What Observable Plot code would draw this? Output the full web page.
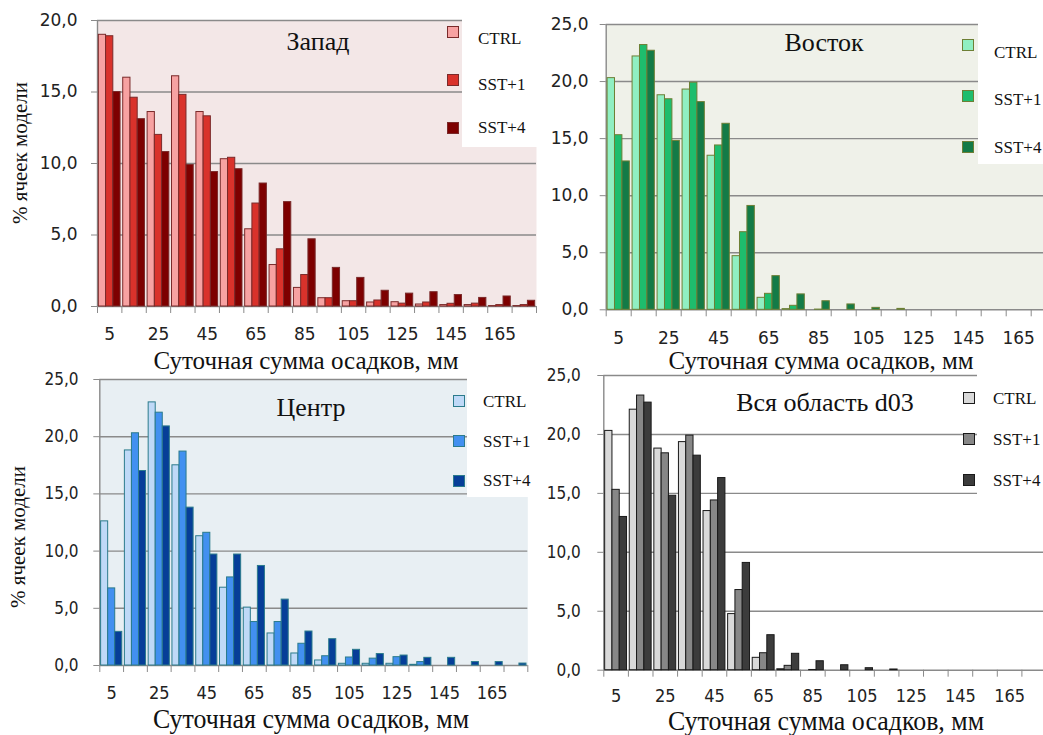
<!DOCTYPE html>
<html><head><meta charset="utf-8">
<script src="https://cdn.jsdelivr.net/npm/d3@7"></script>
<script src="https://cdn.jsdelivr.net/npm/@observablehq/plot@0.6"></script>
<style>
html,body{margin:0;padding:0;background:#fff;overflow:hidden}
#stage{position:relative;width:1043px;height:735px;overflow:hidden;background:#fff}
.panel{position:absolute}
.txt{position:absolute;font-family:"Liberation Serif","Times New Roman",serif;color:#111;white-space:nowrap;line-height:1}
.box{position:absolute;background:#fff}
.sq{position:absolute;box-sizing:border-box;border:1px solid}
</style></head><body><div id="stage"></div><script>
// ---------- data ----------
const categories = [5,15,25,35,45,55,65,75,85,95,105,115,125,135,145,155,165,175];
const xTickLabels = ["5","25","45","65","85","105","125","145","165"];
const seriesNames = ["CTRL","SST+1","SST+4"];
const yTicks20 = [0,5,10,15,20];
const yTicks25 = [0,5,10,15,20,25];

const westCTRL = [19.0,16.0,13.6,16.1,13.6,10.3,5.4,2.9,1.3,0.58,0.37,0.28,0.3,0.14,0.1,0.1,0.03,0.03];
const westSST1 = [18.9,14.6,12.0,14.8,13.3,10.4,7.2,4.0,2.2,0.58,0.37,0.42,0.2,0.28,0.19,0.2,0.1,0.1];
const westSST4 = [15.0,13.1,10.8,9.9,9.4,9.6,8.6,7.3,4.7,2.7,2.0,1.1,0.9,1.0,0.8,0.6,0.7,0.4];

const eastCTRL = [20.3,22.2,18.8,19.3,13.5,4.7,1.05,0.06,0,0,0,0,0,0,0,0,0,0];
const eastSST1 = [15.3,23.2,18.45,19.9,14.4,6.8,1.4,0.35,0.02,0,0,0,0,0,0,0,0,0];
const eastSST4 = [13.0,22.7,14.8,18.2,16.3,9.1,2.95,1.35,0.75,0.47,0.17,0.08,0,0,0,0,0,0];

const centerCTRL = [12.6,18.8,23.0,17.5,11.3,6.8,5.06,2.8,1.05,0.44,0.15,0.15,0.15,0.06,0,0,0,0];
const centerSST1 = [6.74,20.3,22.1,18.7,11.6,7.7,3.8,3.8,1.9,0.81,0.7,0.6,0.73,0.3,0,0,0,0];
const centerSST4 = [2.94,17.0,20.9,13.8,9.7,9.7,8.7,5.76,2.97,2.3,1.37,1.0,0.87,0.67,0.67,0.3,0.3,0.17];

const allCTRL = [20.3,22.1,18.8,19.35,13.5,4.76,1.05,0.08,0,0,0,0,0,0,0,0,0,0];
const allSST1 = [15.3,23.3,18.4,19.9,14.4,6.8,1.44,0.37,0.02,0,0,0,0,0,0,0,0,0];
const allSST4 = [13.0,22.7,14.8,18.2,16.3,9.1,2.97,1.39,0.76,0.42,0.17,0.06,0,0,0,0,0,0];

const panelTitles = ["Запад","Восток","Центр","Вся область d03"];
const xTitle = "Суточная сумма осадков, мм";
const yTitle = "% ячеек модели";

// ---------- layout / style ----------
const panels = [
  {values:[westCTRL,westSST1,westSST4], yTicks:yTicks20, left:0, top:0, ml:97, mr:9, mt:20, mb:64, yPad:14, xPad:21,
   bg:"#f3e7e7", fills:["#f7a2a2","#d9322b","#7d0000"], stroke:"#7a2a2a",
   title:[318,42], xt:[306,360], yt:[20,153], box:[462,10,80,137], sqX:447, sqY:[32,80,128], txX:478, txY:[38,84,127], cond:false},
  {values:[eastCTRL,eastSST1,eastSST4], yTicks:yTicks25, left:545, top:0, ml:60.7, mr:34.3, mt:24, mb:60.7, yPad:11.7, xPad:22,
   bg:"#eff1e9", fills:["#90efc2","#1ebd6d","#137b47"], stroke:"#6d7f35",
   title:[824,43], xt:[821,360], yt:null, box:[978,0,70,164], sqX:962, sqY:[45,96,147], txX:994, txY:[52,99,147], cond:false},
  {values:[centerCTRL,centerSST1,centerSST4], yTicks:yTicks25, left:0, top:365, ml:99.3, mr:17.7, mt:14, mb:70, yPad:15.3, xPad:21,
   bg:"#e8eff3", fills:["#bfd9f7","#4290f0","#063e98"], stroke:"#2b7b8c",
   title:[311,408], xt:[311,719], yt:[18,537], box:[467,370,80,127], sqX:453, sqY:[401,441,481], txX:483, txY:[401,441,480], cond:true},
  {values:[allCTRL,allSST1,allSST4], yTicks:yTicks25, left:545, top:365, ml:58.3, mr:44, mt:10, mb:65.3, yPad:17, xPad:19.5,
   bg:"#ffffff", fills:["#d9d9d9","#878787","#3c3c3c"], stroke:"#1a1a1a",
   title:[825,403], xt:[826,721], yt:null, box:[977,370,70,126], sqX:963, sqY:[398,439,480], txX:993, txY:[398,439,480], cond:true}
];

const stage = document.getElementById("stage");
const W = 545, H = 370;
const fmt = d => d.toFixed(1).replace(".", ",");
const step = categories[1] - categories[0];
const binEdges = categories.map(c => c - step/2).concat([categories[categories.length-1] + step/2]);
const gap = 1.1, bw = (step - gap) / 3;

function addText(str, x, y, size, extra) {
  const d = document.createElement("div");
  d.className = "txt";
  d.textContent = str;
  d.style.left = x + "px"; d.style.top = y + "px";
  d.style.fontSize = size + "px";
  d.style.transform = "translate(-50%,-50%)" + (extra || "");
  stage.appendChild(d);
  return d;
}

panels.forEach((p, pi) => {
  const marks = [Plot.frame({fill: p.bg, stroke: null}),
    Plot.gridY(p.yTicks, {stroke: "#8a8a8a", strokeOpacity: 1, strokeWidth: 1.4}),
    Plot.ruleX([binEdges[0]], {stroke: "#8a8a8a", strokeWidth: 1.4})];
  p.values.forEach((vals, si) => {
    const rows = categories.map((c, j) => ({cat: c, value: vals[j],
      x1: c - step/2 + gap/2 + si*bw, x2: c - step/2 + gap/2 + (si+1)*bw})).filter(d => d.value > 0);
    marks.push(Plot.rectY(rows, {x1: "x1", x2: "x2", y: "value", fill: p.fills[si], stroke: p.stroke, strokeWidth: 1}));
  });
  marks.push(
    Plot.axisY({ticks: p.yTicks, tickSize: 6, tickPadding: p.yPad, tickFormat: fmt, stroke: "#8a8a8a", fill: "#222", fontSize: 17, label: null}),
    Plot.axisX({ticks: binEdges, tickSize: 7, tickFormat: () => "", stroke: "#8a8a8a", label: null}),
    Plot.axisX({ticks: xTickLabels.map(Number), tickSize: 0, tickPadding: p.xPad, tickFormat: d => String(d), fill: "#222",
      fontSize: p.cond ? 18 : 17, label: null})
  );
  const svg = Plot.plot({
    width: W, height: H, marginLeft: p.ml, marginRight: p.mr, marginTop: p.mt, marginBottom: p.mb,
    style: {fontFamily: p.cond ? "'DejaVu Sans Condensed','DejaVu Sans',sans-serif" : "'DejaVu Sans',sans-serif", fontSize: "17px", background: "transparent", overflow: "visible"},
    x: {type: "linear", domain: [binEdges[0], binEdges[binEdges.length-1]], label: null},
    y: {domain: [0, p.yTicks[p.yTicks.length-1]], label: null},
    marks
  });
  svg.classList.add("panel");
  svg.style.left = p.left + "px"; svg.style.top = p.top + "px";
  stage.appendChild(svg);

  // legend
  const b = document.createElement("div");
  b.className = "box";
  b.style.left = p.box[0] + "px"; b.style.top = p.box[1] + "px";
  b.style.width = p.box[2] + "px"; b.style.height = p.box[3] + "px";
  stage.appendChild(b);
  seriesNames.forEach((s, si) => {
    const q = document.createElement("div");
    q.className = "sq";
    q.style.left = p.sqX + "px"; q.style.top = (p.sqY[si] - 6) + "px";
    q.style.width = "12px"; q.style.height = "12px";
    q.style.background = p.fills[si]; q.style.borderColor = p.stroke;
    stage.appendChild(q);
    const t = addText(s, p.txX, p.txY[si], 17);
    t.style.transform = "translate(0,-50%)";
  });

  // titles
  addText(panelTitles[pi], p.title[0], p.title[1], 26);
  addText(xTitle, p.xt[0], p.xt[1], p.cond ? 28 : 25, p.cond ? " scaleX(0.925)" : "");
  if (p.yt) addText(yTitle, p.yt[0], p.yt[1], 21, " rotate(-90deg)");
});
</script></body></html>
